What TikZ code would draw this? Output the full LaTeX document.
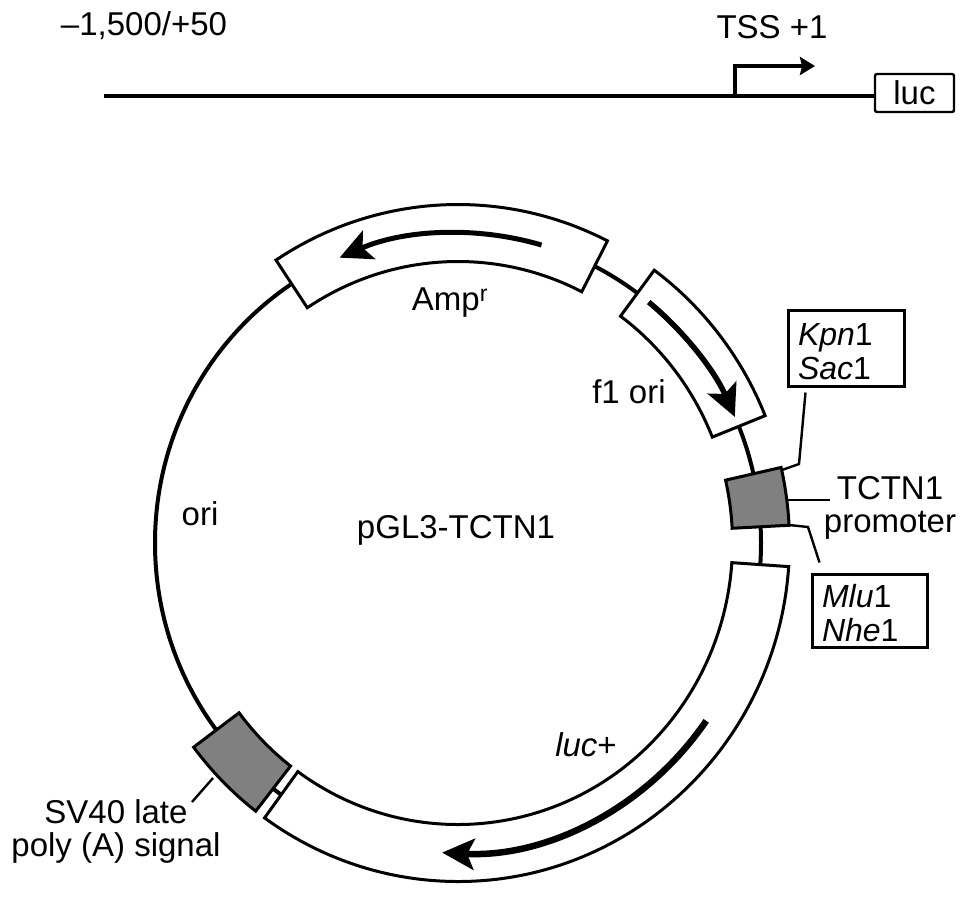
\documentclass[tikz,border=0pt]{standalone}
\usepackage{fontspec}
\setmainfont{Liberation Sans}
\usetikzlibrary{arrows.meta,positioning}

\tikzset{
    lab/.style={font=\fontsize{33}{33}\selectfont, inner sep=0pt, align=center},
    sitebox/.style={draw, line width=3pt, font=\fontsize{32}{34}\selectfont, align=left, inner sep=0pt},
    bandline/.style={line width=3pt, line join=miter},
    leader/.style={line width=2.4pt},
    bandarrow/.style={line width=#1, -{Stealth[length=32pt,width=31pt,inset=7pt]}},
}
\definecolor{boxgrey}{HTML}{808080}

% start angle, end angle, fill
\newcommand{\plasmidband}[3]{
    \draw[bandline, fill=#3] (#1:331.5 and 338.5) arc[start angle=#1, end angle=#2, x radius=331.5, y radius=338.5]
        -- (#2:274.5 and 281.5) arc[start angle=#2, end angle=#1, x radius=274.5, y radius=281.5] -- cycle;
}
\newcommand{\bandpointer}[3]{
    \draw[bandarrow=#3] (#1:303 and 310) arc[start angle=#1, end angle=#2, x radius=303, y radius=310];
}

\begin{document}
\begin{tikzpicture}[x=1pt, y=-1pt]
    \useasboundingbox (0,0) rectangle (969,901);

    % promoter construct
    \node[draw, line width=2.4pt, rounded corners=2pt, minimum width=79pt, minimum height=38pt, inner sep=0pt,
        font=\fontsize{33}{33}\selectfont] (lucbox) at (914.5,93) {luc};
    \coordinate (linestart) at (104,96);
    \coordinate (tssfoot) at (735,96);
    \coordinate (tsscorner) at (735,66);
    \coordinate (tsstip) at (815,66);
    \draw[line width=4.5pt] (linestart) -- (linestart -| lucbox.west);
    \draw[line width=4.5pt, -{Stealth[length=15pt,width=18pt,inset=2pt]}] (tssfoot) -- (tsscorner) -- (tsstip);
    \node[lab] (rangelabel) at (144,26) {–1,500/+50};
    \node[lab] (tsslabel) at (772,27) {TSS +1};

    % plasmid
    \begin{scope}[shift={(458,543)}, y=1pt]
        \draw[line width=4pt] (0,0) ellipse [x radius=303, y radius=310];
        \plasmidband{123.3}{63.2}{white}
        \plasmidband{53.7}{22.1}{white}
        \plasmidband{-4}{-125.7}{white}
        \plasmidband{12.9}{3}{boxgrey}
        \plasmidband{-142.9}{-127.6}{boxgrey}
        \bandpointer{74}{113}{5pt}
        \bandpointer{51}{24}{5.5pt}
        \bandpointer{-35}{-93}{6.5pt}
    \end{scope}

    \node[lab] (amplabel) at (450,303) {Amp\textsuperscript{r}};
    \node[lab] (f1label) at (629,392) {f1 ori};
    \node[lab] (orilabel) at (200,514) {ori};
    \node[lab] (namelabel) at (456,530) {pGL3-TCTN1};
    \node[lab] (luclabel) at (586,745) {\textit{luc}+};
    \node[lab] (sv40label) at (116,831) {SV40 late\\poly (A) signal};
    \node[lab] (promlabel) at (890,508) {TCTN1\\promoter};

    % restriction sites
    \node[sitebox, minimum width=116pt, minimum height=75pt, text width=96pt] (kpnbox) at (846,348.5)
        {\rule{0pt}{29pt}\textit{Kpn}1\\\textit{Sac}1};
    \node[sitebox, minimum width=115pt, minimum height=73pt, text width=95pt] (mlubox) at (869.5,610.5)
        {\rule{0pt}{29pt}\textit{Mlu}1\\\textit{Nhe}1};

    % leaders
    \coordinate (kpnbend) at (799,464);
    \coordinate (kpnend) at (782,470);
    \coordinate (mlubend) at (808,527);
    \coordinate (mluend) at (789,525);
    \coordinate (promend) at (786,500);
    \coordinate (sv40end) at (213,778);
    \draw[leader] ([xshift=19pt, yshift=-5pt]kpnbox.south west) -- (kpnbend) -- (kpnend);
    \draw[leader] ([xshift=9pt, yshift=10pt]mlubox.north west) -- (mlubend) -- (mluend);
    \draw[leader] ([xshift=-60pt, yshift=8pt]promlabel.center) -- (promend);
    \draw[leader] ([xshift=76pt, yshift=29pt]sv40label.center) -- (sv40end);
\end{tikzpicture}
\end{document}
